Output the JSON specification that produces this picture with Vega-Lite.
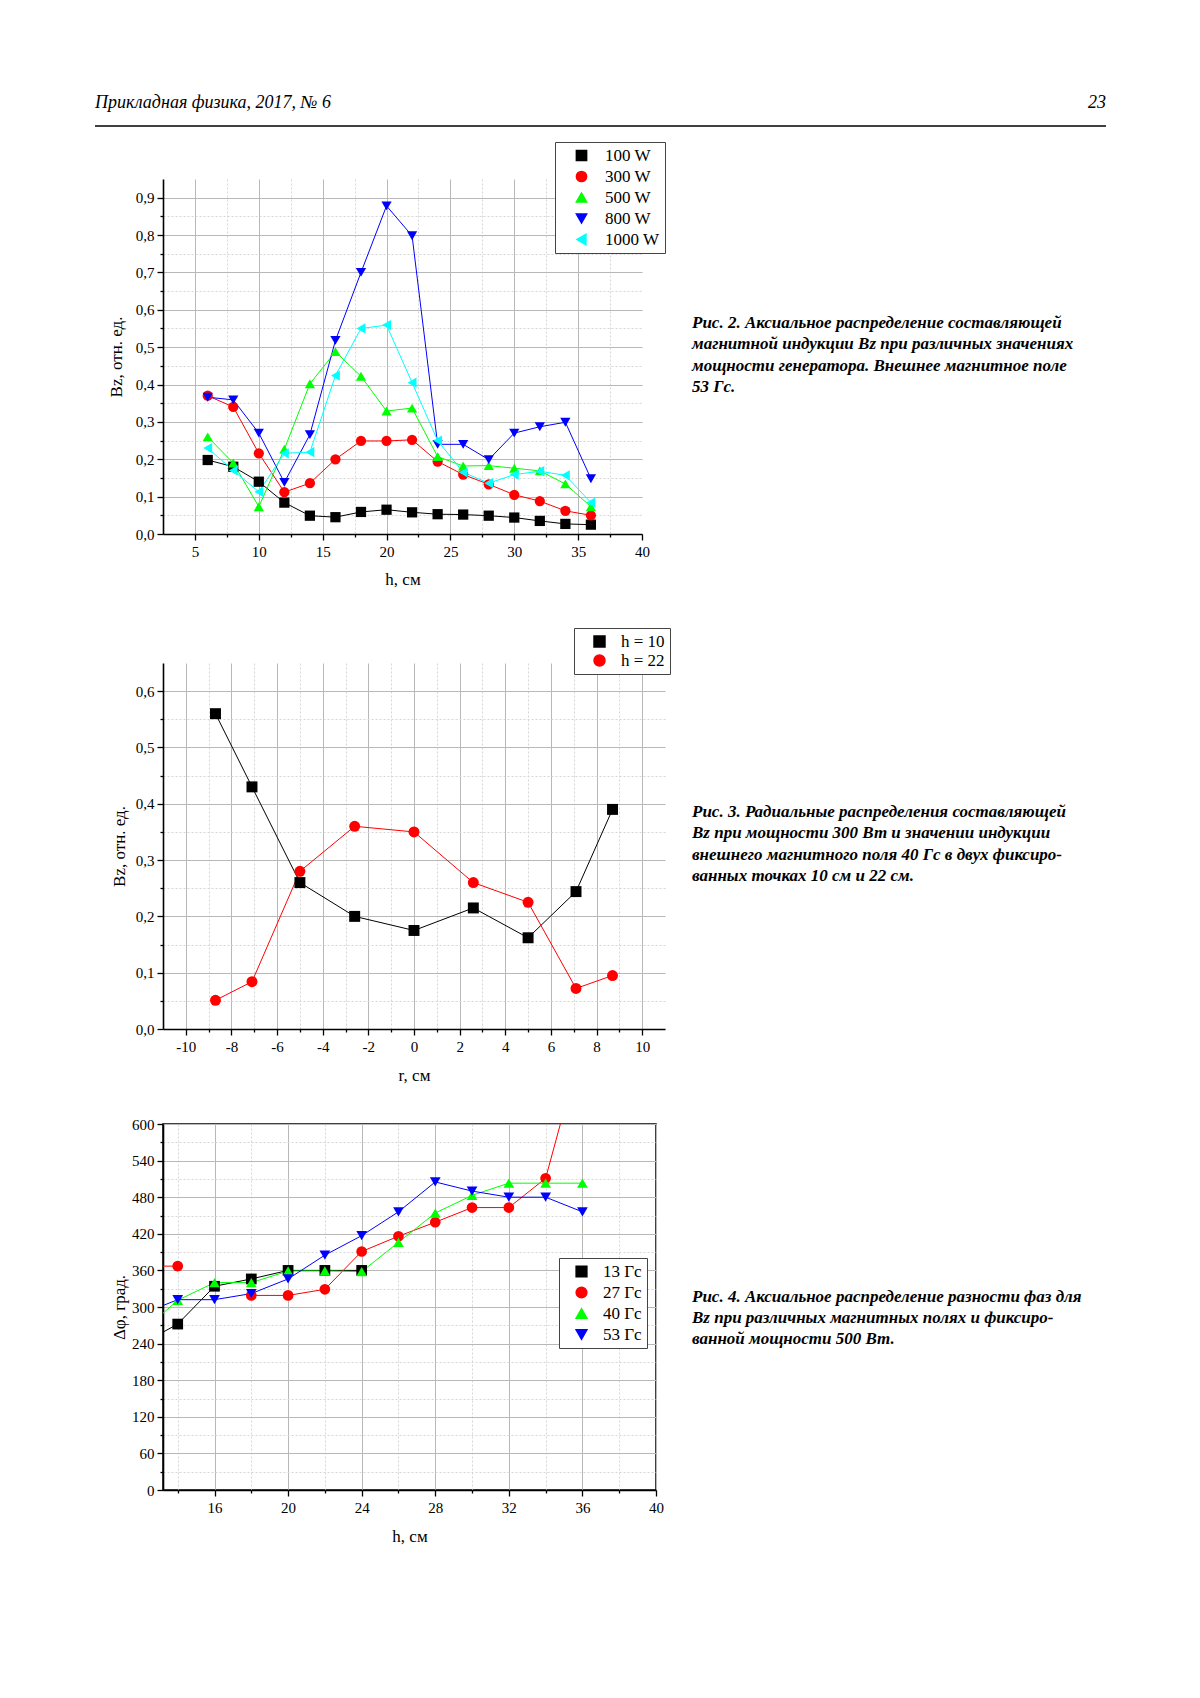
{
  "$schema": "https://vega.github.io/schema/vega-lite/v6.json",
  "padding": {"left": 94, "top": 94, "right": 10, "bottom": 10},
  "background": "white",
  "bounds": "flush",
  "spacing": 0,
  "resolve": {"scale": {"color": "independent", "shape": "independent"}, "legend": {"color": "independent", "shape": "independent"}},
  "config": {
    "view": {"stroke": null},
    "font": "Liberation Serif",
    "axis": {"labelFont": "Liberation Serif", "labelFontSize": 15, "labelColor": "#000", "titleFont": "Liberation Serif", "titleFontSize": 17, "titleFontWeight": "normal", "titleColor": "#000", "domainColor": "#000", "domainWidth": 1.6, "tickColor": "#000", "tickWidth": 1.3, "gridColor": "#b8b8b8", "gridWidth": 1, "labelFlush": false, "labelOverlap": false},
    "legend": {"labelFont": "Liberation Serif", "labelFontSize": 17, "labelColor": "#000", "strokeColor": "#444", "fillColor": "#fff", "padding": 5}
  },
  "vconcat": [
    {
      "width": 479,
      "height": 355,
      "layer": [
        {
          "data": {"values": [
            {"h": 6, "v": 0.198, "s": "100 W"}, {"h": 8, "v": 0.18, "s": "100 W"}, {"h": 10, "v": 0.14, "s": "100 W"}, {"h": 12, "v": 0.084, "s": "100 W"}, {"h": 14, "v": 0.049, "s": "100 W"}, {"h": 16, "v": 0.045, "s": "100 W"}, {"h": 18, "v": 0.059, "s": "100 W"}, {"h": 20, "v": 0.065, "s": "100 W"}, {"h": 22, "v": 0.058, "s": "100 W"}, {"h": 24, "v": 0.053, "s": "100 W"}, {"h": 26, "v": 0.052, "s": "100 W"}, {"h": 28, "v": 0.049, "s": "100 W"}, {"h": 30, "v": 0.044, "s": "100 W"}, {"h": 32, "v": 0.035, "s": "100 W"}, {"h": 34, "v": 0.027, "s": "100 W"}, {"h": 36, "v": 0.025, "s": "100 W"},
            {"h": 6, "v": 0.37, "s": "300 W"}, {"h": 8, "v": 0.34, "s": "300 W"}, {"h": 10, "v": 0.216, "s": "300 W"}, {"h": 12, "v": 0.112, "s": "300 W"}, {"h": 14, "v": 0.136, "s": "300 W"}, {"h": 16, "v": 0.2, "s": "300 W"}, {"h": 18, "v": 0.249, "s": "300 W"}, {"h": 20, "v": 0.249, "s": "300 W"}, {"h": 22, "v": 0.252, "s": "300 W"}, {"h": 24, "v": 0.194, "s": "300 W"}, {"h": 26, "v": 0.159, "s": "300 W"}, {"h": 28, "v": 0.133, "s": "300 W"}, {"h": 30, "v": 0.105, "s": "300 W"}, {"h": 32, "v": 0.088, "s": "300 W"}, {"h": 34, "v": 0.062, "s": "300 W"}, {"h": 36, "v": 0.05, "s": "300 W"},
            {"h": 6, "v": 0.26, "s": "500 W"}, {"h": 8, "v": 0.19, "s": "500 W"}, {"h": 10, "v": 0.073, "s": "500 W"}, {"h": 12, "v": 0.227, "s": "500 W"}, {"h": 14, "v": 0.402, "s": "500 W"}, {"h": 16, "v": 0.488, "s": "500 W"}, {"h": 18, "v": 0.422, "s": "500 W"}, {"h": 20, "v": 0.329, "s": "500 W"}, {"h": 22, "v": 0.337, "s": "500 W"}, {"h": 24, "v": 0.207, "s": "500 W"}, {"h": 26, "v": 0.182, "s": "500 W"}, {"h": 28, "v": 0.183, "s": "500 W"}, {"h": 30, "v": 0.176, "s": "500 W"}, {"h": 32, "v": 0.169, "s": "500 W"}, {"h": 34, "v": 0.134, "s": "500 W"}, {"h": 36, "v": 0.073, "s": "500 W"},
            {"h": 6, "v": 0.366, "s": "800 W"}, {"h": 8, "v": 0.359, "s": "800 W"}, {"h": 10, "v": 0.27, "s": "800 W"}, {"h": 12, "v": 0.138, "s": "800 W"}, {"h": 14, "v": 0.266, "s": "800 W"}, {"h": 16, "v": 0.518, "s": "800 W"}, {"h": 18, "v": 0.7, "s": "800 W"}, {"h": 20, "v": 0.878, "s": "800 W"}, {"h": 22, "v": 0.798, "s": "800 W"}, {"h": 24, "v": 0.24, "s": "800 W"}, {"h": 26, "v": 0.24, "s": "800 W"}, {"h": 28, "v": 0.199, "s": "800 W"}, {"h": 30, "v": 0.27, "s": "800 W"}, {"h": 32, "v": 0.287, "s": "800 W"}, {"h": 34, "v": 0.299, "s": "800 W"}, {"h": 36, "v": 0.148, "s": "800 W"},
            {"h": 6, "v": 0.23, "s": "1000 W"}, {"h": 8, "v": 0.17, "s": "1000 W"}, {"h": 10, "v": 0.113, "s": "1000 W"}, {"h": 12, "v": 0.216, "s": "1000 W"}, {"h": 14, "v": 0.219, "s": "1000 W"}, {"h": 16, "v": 0.424, "s": "1000 W"}, {"h": 18, "v": 0.55, "s": "1000 W"}, {"h": 20, "v": 0.559, "s": "1000 W"}, {"h": 22, "v": 0.405, "s": "1000 W"}, {"h": 24, "v": 0.25, "s": "1000 W"}, {"h": 26, "v": 0.165, "s": "1000 W"}, {"h": 28, "v": 0.136, "s": "1000 W"}, {"h": 30, "v": 0.159, "s": "1000 W"}, {"h": 32, "v": 0.168, "s": "1000 W"}, {"h": 34, "v": 0.157, "s": "1000 W"}, {"h": 36, "v": 0.084, "s": "1000 W"}
          ]},
          "layer": [
            {
              "mark": {"type": "line", "strokeWidth": 1},
              "encoding": {
                "x": {"field": "h", "type": "quantitative", "scale": {"domain": [2.5, 40], "nice": false, "zero": false},
                  "axis": {"orient": "bottom", "values": [5, 10, 15, 20, 25, 30, 35, 40], "title": "h, см", "tickSize": 6, "labelPadding": 4, "titlePadding": 12, "grid": true, "gridColor": {"condition": {"test": "datum.value >= 40", "value": "transparent"}, "value": "#b8b8b8"}}},
                "y": {"field": "v", "type": "quantitative", "scale": {"domain": [0, 0.95], "nice": false},
                  "axis": {"orient": "left", "values": [0, 0.1, 0.2, 0.3, 0.4, 0.5, 0.6, 0.7, 0.8, 0.9], "title": "Bz, отн. ед.", "labelExpr": "replace(format(datum.value, '.1f'), '.', ',')", "tickSize": 6, "labelPadding": 3, "titlePadding": 10, "grid": true}},
                "color": {"field": "s", "type": "nominal", "scale": {"domain": ["100 W", "300 W", "500 W", "800 W", "1000 W"], "range": ["#000000", "#ff0000", "#00ff00", "#0000ff", "#00ffff"]},
                  "legend": {"orient": "none", "legendX": 392, "legendY": -37, "title": null, "symbolOffset": 13, "labelOffset": 15, "rowPadding": 3, "symbolSize": 105}}
              }
            },
            {
              "mark": {"type": "point", "filled": true, "size": 105, "opacity": 1},
              "encoding": {
                "x": {"field": "h", "type": "quantitative", "axis": {"orient": "bottom", "values": [7.5, 12.5, 17.5, 22.5, 27.5, 32.5, 37.5], "labels": false, "domain": false, "tickSize": 3, "grid": true, "gridDash": [2, 2], "gridColor": "#d6d6d6", "title": null}},
                "y": {"field": "v", "type": "quantitative", "axis": {"orient": "left", "values": [0.05, 0.15, 0.25, 0.35, 0.45, 0.55, 0.65, 0.75, 0.85], "labels": false, "domain": false, "tickSize": 3, "grid": true, "gridDash": [2, 2], "gridColor": "#d6d6d6", "title": null}},
                "color": {"field": "s", "type": "nominal", "legend": {"orient": "none", "legendX": 392, "legendY": -37, "title": null, "symbolOffset": 13, "labelOffset": 15, "rowPadding": 3, "symbolSize": 105}},
                "shape": {"field": "s", "type": "nominal", "scale": {"domain": ["100 W", "300 W", "500 W", "800 W", "1000 W"], "range": ["square", "circle", "triangle-up", "triangle-down", "triangle-left"]}, "legend": {"orient": "none", "legendX": 392, "legendY": -37, "title": null, "symbolOffset": 13, "labelOffset": 15, "rowPadding": 3, "symbolSize": 105}}
              }
            }
          ],
          "resolve": {"axis": {"x": "independent", "y": "independent"}}
        },
        {
          "data": {"values": [
            {"line": 1, "text": "Рис. 2. Аксиальное распределение составляющей"},
            {"line": 2, "text": "магнитной индукции Bz при различных значениях"},
            {"line": 3, "text": "мощности генератора. Внешнее магнитное поле"},
            {"line": 4, "text": "53 Гс."}
          ]},
          "mark": {"type": "text", "align": "left", "baseline": "middle", "font": "Liberation Serif", "fontSize": 17, "fontStyle": "italic", "fontWeight": "bold", "color": "#000"},
          "encoding": {
            "x": {"datum": 0, "type": "quantitative", "scale": {"domain": [0, 1], "range": [529, 941]}, "axis": null},
            "y": {"field": "line", "type": "ordinal", "scale": {"type": "point", "range": [144, 208], "padding": 0}, "axis": null},
            "text": {"field": "text"}
          }
        },
        {
          "data": {"values": [{"left": "Прикладная физика, 2017, № 6", "right": "23"}]},
          "layer": [
            {
              "mark": {"type": "text", "align": "left", "baseline": "middle", "font": "Liberation Serif", "fontSize": 18, "fontStyle": "italic", "color": "#000"},
              "encoding": {
                "x": {"datum": 0, "type": "quantitative", "scale": {"domain": [0, 1], "range": [-68, 943]}, "axis": null},
                "y": {"datum": 1, "type": "quantitative", "scale": {"domain": [0, 1], "range": [-53, -76]}, "axis": null},
                "text": {"field": "left"}
              }
            },
            {
              "mark": {"type": "text", "align": "right", "baseline": "middle", "font": "Liberation Serif", "fontSize": 18, "fontStyle": "italic", "color": "#000"},
              "encoding": {
                "x": {"datum": 1, "type": "quantitative", "scale": {"domain": [0, 1], "range": [-68, 943]}, "axis": null},
                "y": {"datum": 1, "type": "quantitative", "scale": {"domain": [0, 1], "range": [-53, -76]}, "axis": null},
                "text": {"field": "right"}
              }
            },
            {
              "mark": {"type": "rule", "color": "#000", "strokeWidth": 1.3},
              "encoding": {
                "x": {"datum": 0, "type": "quantitative", "scale": {"domain": [0, 1], "range": [-68, 943]}, "axis": null},
                "x2": {"datum": 1},
                "y": {"datum": 0, "type": "quantitative", "scale": {"domain": [0, 1], "range": [-53, -76]}, "axis": null}
              }
            }
          ]
        }
      ],
      "resolve": {"scale": {"x": "independent", "y": "independent"}}
    },
    {"width": 1, "height": 129, "data": {"values": [{}]}, "mark": "text", "encoding": {"text": {"value": ""}}},
    {
      "width": 502,
      "height": 366,
      "layer": [
        {
          "data": {"values": [
            {"r": -8.7, "v": 0.56, "s": "h = 10"}, {"r": -7.1, "v": 0.43, "s": "h = 10"}, {"r": -5, "v": 0.26, "s": "h = 10"}, {"r": -2.6, "v": 0.2, "s": "h = 10"}, {"r": 0, "v": 0.175, "s": "h = 10"}, {"r": 2.6, "v": 0.215, "s": "h = 10"}, {"r": 5, "v": 0.162, "s": "h = 10"}, {"r": 7.1, "v": 0.244, "s": "h = 10"}, {"r": 8.7, "v": 0.39, "s": "h = 10"},
            {"r": -8.7, "v": 0.051, "s": "h = 22"}, {"r": -7.1, "v": 0.084, "s": "h = 22"}, {"r": -5, "v": 0.28, "s": "h = 22"}, {"r": -2.6, "v": 0.36, "s": "h = 22"}, {"r": 0, "v": 0.35, "s": "h = 22"}, {"r": 2.6, "v": 0.26, "s": "h = 22"}, {"r": 5, "v": 0.225, "s": "h = 22"}, {"r": 7.1, "v": 0.072, "s": "h = 22"}, {"r": 8.7, "v": 0.095, "s": "h = 22"}
          ]},
          "layer": [
            {
              "mark": {"type": "line", "strokeWidth": 1},
              "encoding": {
                "x": {"field": "r", "type": "quantitative", "scale": {"domain": [-11, 11], "nice": false, "zero": false},
                  "axis": {"orient": "bottom", "values": [-10, -8, -6, -4, -2, 0, 2, 4, 6, 8, 10], "labelExpr": "'' + datum.value", "title": "r, см", "tickSize": 6, "labelPadding": 4, "titlePadding": 13, "grid": true}},
                "y": {"field": "v", "type": "quantitative", "scale": {"domain": [0, 0.65], "nice": false},
                  "axis": {"orient": "left", "values": [0, 0.1, 0.2, 0.3, 0.4, 0.5, 0.6], "title": "Bz, отн. ед.", "labelExpr": "replace(format(datum.value, '.1f'), '.', ',')", "tickSize": 6, "labelPadding": 3, "titlePadding": 7, "grid": true}},
                "color": {"field": "s", "type": "nominal", "scale": {"domain": ["h = 10", "h = 22"], "range": ["#000000", "#ff0000"]},
                  "legend": {"orient": "none", "legendX": 411, "legendY": -35, "title": null, "symbolOffset": 12, "labelOffset": 13, "rowPadding": 1, "symbolSize": 120}}
              }
            },
            {
              "mark": {"type": "point", "filled": true, "size": 120, "opacity": 1},
              "encoding": {
                "x": {"field": "r", "type": "quantitative", "axis": {"orient": "bottom", "values": [-9, -7, -5, -3, -1, 1, 3, 5, 7, 9], "labels": false, "domain": false, "tickSize": 3, "grid": true, "gridDash": [2, 2], "gridColor": "#d6d6d6", "title": null}},
                "y": {"field": "v", "type": "quantitative", "axis": {"orient": "left", "values": [0.05, 0.15, 0.25, 0.35, 0.45, 0.55], "labels": false, "domain": false, "tickSize": 3, "grid": true, "gridDash": [2, 2], "gridColor": "#d6d6d6", "title": null}},
                "color": {"field": "s", "type": "nominal", "legend": {"orient": "none", "legendX": 411, "legendY": -35, "title": null, "symbolOffset": 12, "labelOffset": 13, "rowPadding": 1, "symbolSize": 120}},
                "shape": {"field": "s", "type": "nominal", "scale": {"domain": ["h = 10", "h = 22"], "range": ["square", "circle"]}, "legend": {"orient": "none", "legendX": 411, "legendY": -35, "title": null, "symbolOffset": 12, "labelOffset": 13, "rowPadding": 1, "symbolSize": 120}}
              }
            }
          ],
          "resolve": {"axis": {"x": "independent", "y": "independent"}}
        },
        {
          "data": {"values": [
            {"line": 1, "text": "Рис. 3. Радиальные распределения составляющей"},
            {"line": 2, "text": "Bz при мощности 300 Вт и значении индукции"},
            {"line": 3, "text": "внешнего магнитного поля 40 Гс в двух фиксиро-"},
            {"line": 4, "text": "ванных точках 10 см и 22 см."}
          ]},
          "mark": {"type": "text", "align": "left", "baseline": "middle", "font": "Liberation Serif", "fontSize": 17, "fontStyle": "italic", "fontWeight": "bold", "color": "#000"},
          "encoding": {
            "x": {"datum": 0, "type": "quantitative", "scale": {"domain": [0, 1], "range": [529, 941]}, "axis": null},
            "y": {"field": "line", "type": "ordinal", "scale": {"type": "point", "range": [149, 213], "padding": 0}, "axis": null},
            "text": {"field": "text"}
          }
        }
      ],
      "resolve": {"scale": {"x": "independent", "y": "independent"}}
    },
    {"width": 1, "height": 95, "data": {"values": [{}]}, "mark": "text", "encoding": {"text": {"value": ""}}},
    {
      "width": 493,
      "height": 366,
      "view": {"stroke": "#000", "strokeWidth": 1.5},
      "layer": [
        {
          "data": {"values": [
            {"h": 12, "v": 239, "s": "13 Гс", "g": "a"}, {"h": 14, "v": 272, "s": "13 Гс", "g": "a"}, {"h": 16, "v": 334, "s": "13 Гс", "g": "a"}, {"h": 18, "v": 346, "s": "13 Гс", "g": "a"}, {"h": 20, "v": 360, "s": "13 Гс", "g": "a"}, {"h": 22, "v": 360, "s": "13 Гс", "g": "a"}, {"h": 24, "v": 360, "s": "13 Гс", "g": "a"},
            {"h": 12, "v": 367, "s": "27 Гс", "g": "a"}, {"h": 14, "v": 367, "s": "27 Гс", "g": "a"},
            {"h": 18, "v": 319, "s": "27 Гс", "g": "b"}, {"h": 20, "v": 319, "s": "27 Гс", "g": "b"}, {"h": 22, "v": 329, "s": "27 Гс", "g": "b"}, {"h": 24, "v": 391, "s": "27 Гс", "g": "b"}, {"h": 26, "v": 416, "s": "27 Гс", "g": "b"}, {"h": 28, "v": 439, "s": "27 Гс", "g": "b"}, {"h": 30, "v": 463, "s": "27 Гс", "g": "b"}, {"h": 32, "v": 463, "s": "27 Гс", "g": "b"}, {"h": 34, "v": 511, "s": "27 Гс", "g": "b"}, {"h": 36, "v": 733, "s": "27 Гс", "g": "b"},
            {"h": 12, "v": 258, "s": "40 Гс", "g": "a"}, {"h": 14, "v": 311, "s": "40 Гс", "g": "a"}, {"h": 16, "v": 340, "s": "40 Гс", "g": "a"}, {"h": 18, "v": 340, "s": "40 Гс", "g": "a"}, {"h": 20, "v": 359, "s": "40 Гс", "g": "a"}, {"h": 22, "v": 359, "s": "40 Гс", "g": "a"}, {"h": 24, "v": 358, "s": "40 Гс", "g": "a"}, {"h": 26, "v": 406, "s": "40 Гс", "g": "a"}, {"h": 28, "v": 454, "s": "40 Гс", "g": "a"}, {"h": 30, "v": 483, "s": "40 Гс", "g": "a"}, {"h": 32, "v": 503, "s": "40 Гс", "g": "a"}, {"h": 34, "v": 503, "s": "40 Гс", "g": "a"}, {"h": 36, "v": 503, "s": "40 Гс", "g": "a"},
            {"h": 12, "v": 288, "s": "53 Гс", "g": "a"}, {"h": 14, "v": 312, "s": "53 Гс", "g": "a"}, {"h": 16, "v": 312, "s": "53 Гс", "g": "a"}, {"h": 18, "v": 322, "s": "53 Гс", "g": "a"}, {"h": 20, "v": 346, "s": "53 Гс", "g": "a"}, {"h": 22, "v": 385, "s": "53 Гс", "g": "a"}, {"h": 24, "v": 417, "s": "53 Гс", "g": "a"}, {"h": 26, "v": 456, "s": "53 Гс", "g": "a"}, {"h": 28, "v": 505, "s": "53 Гс", "g": "a"}, {"h": 30, "v": 490, "s": "53 Гс", "g": "a"}, {"h": 32, "v": 480, "s": "53 Гс", "g": "a"}, {"h": 34, "v": 480, "s": "53 Гс", "g": "a"}, {"h": 36, "v": 456, "s": "53 Гс", "g": "a"}
          ]},
          "layer": [
            {
              "mark": {"type": "line", "strokeWidth": 1, "clip": true},
              "encoding": {
                "x": {"field": "h", "type": "quantitative", "scale": {"domain": [13.2, 40], "nice": false, "zero": false},
                  "axis": {"orient": "bottom", "values": [16, 20, 24, 28, 32, 36, 40], "title": "h, см", "tickSize": 6, "labelPadding": 4, "titlePadding": 13, "grid": true}},
                "y": {"field": "v", "type": "quantitative", "scale": {"domain": [0, 600], "nice": false},
                  "axis": {"orient": "left", "values": [0, 60, 120, 180, 240, 300, 360, 420, 480, 540, 600], "title": "Δφ, град.", "tickSize": 6, "labelPadding": 3, "titlePadding": 3, "grid": true}},
                "color": {"field": "s", "type": "nominal", "scale": {"domain": ["13 Гс", "27 Гс", "40 Гс", "53 Гс"], "range": ["#000000", "#ff0000", "#00ff00", "#0000ff"]},
                  "legend": {"orient": "none", "legendX": 396, "legendY": 134, "title": null, "symbolOffset": 9, "labelOffset": 13, "rowPadding": 3, "symbolSize": 115}},
                "detail": {"field": "g"}
              }
            },
            {
              "mark": {"type": "point", "filled": true, "size": 115, "opacity": 1, "clip": true},
              "encoding": {
                "x": {"field": "h", "type": "quantitative", "axis": {"orient": "bottom", "values": [14, 18, 22, 26, 30, 34, 38], "labels": false, "domain": false, "tickSize": 3, "grid": true, "gridDash": [2, 2], "gridColor": "#d6d6d6", "title": null}},
                "y": {"field": "v", "type": "quantitative", "axis": {"orient": "left", "values": [30, 90, 150, 210, 270, 330, 390, 450, 510, 570], "labels": false, "domain": false, "tickSize": 3, "grid": true, "gridDash": [2, 2], "gridColor": "#d6d6d6", "title": null}},
                "color": {"field": "s", "type": "nominal", "legend": {"orient": "none", "legendX": 396, "legendY": 134, "title": null, "symbolOffset": 9, "labelOffset": 13, "rowPadding": 3, "symbolSize": 115}},
                "shape": {"field": "s", "type": "nominal", "scale": {"domain": ["13 Гс", "27 Гс", "40 Гс", "53 Гс"], "range": ["square", "circle", "triangle-up", "triangle-down"]}, "legend": {"orient": "none", "legendX": 396, "legendY": 134, "title": null, "symbolOffset": 9, "labelOffset": 13, "rowPadding": 3, "symbolSize": 115}}
              }
            }
          ],
          "resolve": {"axis": {"x": "independent", "y": "independent"}}
        },
        {
          "data": {"values": [
            {"line": 1, "text": "Рис. 4. Аксиальное распределение разности фаз для"},
            {"line": 2, "text": "Bz при различных магнитных полях и фиксиро-"},
            {"line": 3, "text": "ванной мощности 500 Вт."}
          ]},
          "mark": {"type": "text", "align": "left", "baseline": "middle", "font": "Liberation Serif", "fontSize": 17, "fontStyle": "italic", "fontWeight": "bold", "color": "#000"},
          "encoding": {
            "x": {"datum": 0, "type": "quantitative", "scale": {"domain": [0, 1], "range": [529, 941]}, "axis": null},
            "y": {"field": "line", "type": "ordinal", "scale": {"type": "point", "range": [173, 215], "padding": 0}, "axis": null},
            "text": {"field": "text"}
          }
        }
      ],
      "resolve": {"scale": {"x": "independent", "y": "independent"}}
    }
  ]
}
